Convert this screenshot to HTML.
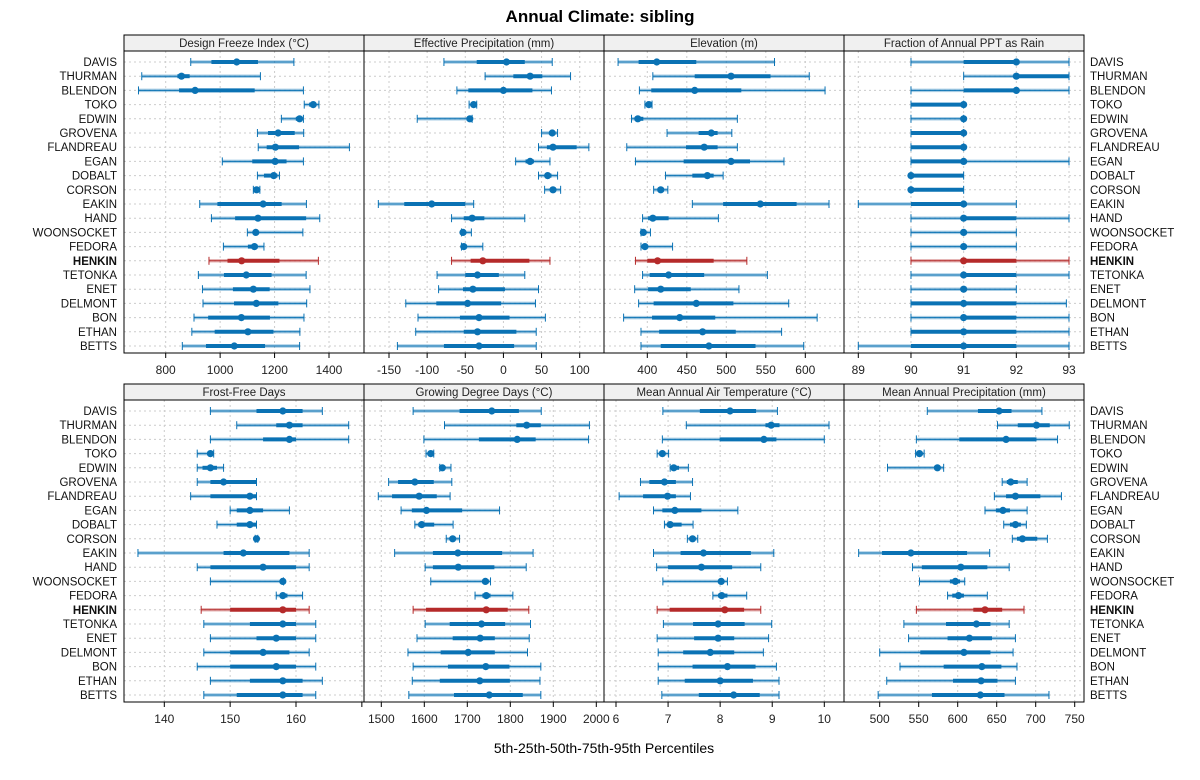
<!DOCTYPE html>
<html><head><meta charset="utf-8"><style>
body{margin:0;background:#fff;}
svg{font-family:"Liberation Sans",sans-serif;}
</style></head><body>
<svg id="chart" width="1200" height="775">
<text x="600" y="22" text-anchor="middle" font-size="17" font-weight="bold">Annual Climate: sibling</text>
<text x="604" y="753" text-anchor="middle" font-size="14">5th-25th-50th-75th-95th Percentiles</text>
</svg>
<script>
const rowNames = ["DAVIS","THURMAN","BLENDON","TOKO","EDWIN","GROVENA","FLANDREAU","EGAN","DOBALT","CORSON","EAKIN","HAND","WOONSOCKET","FEDORA","HENKIN","TETONKA","ENET","DELMONT","BON","ETHAN","BETTS"];
const highlight = "HENKIN";
const panelTitles = ["Design Freeze Index (°C)","Effective Precipitation (mm)","Elevation (m)","Fraction of Annual PPT as Rain","Frost-Free Days","Growing Degree Days (°C)","Mean Annual Air Temperature (°C)","Mean Annual Precipitation (mm)"];
const dfi = [[892,968,1061,1139,1271],[712,843,858,888,1148],[700,849,908,1127,1306],[1309,1327,1342,1351,1363],[1225,1278,1292,1302,1306],[1137,1176,1213,1274,1307],[1140,1171,1203,1290,1475],[1008,1118,1202,1244,1306],[1137,1161,1197,1210,1218],[1122,1126,1134,1141,1146],[925,990,1158,1226,1317],[968,1055,1139,1316,1366],[1100,1121,1131,1140,1304],[1012,1102,1126,1138,1161],[959,1027,1079,1218,1361],[920,1014,1096,1189,1316],[935,1047,1122,1182,1330],[937,1051,1133,1214,1318],[904,956,1078,1183,1308],[896,980,1102,1196,1293],[861,948,1052,1165,1292]];
const effp = [[-78,-35,4,28,64],[-24,13,35,51,88],[-61,-46,0,38,63],[-45,-42,-39,-37,-35],[-113,-48,-44,-42,-41],[50,62,64,66,71],[46,57,65,96,112],[16,29,35,40,61],[46,55,58,63,71],[54,61,65,69,75],[-164,-130,-94,-50,-39],[-68,-52,-41,-25,28],[-55,-54,-53,-52,-42],[-55,-53,-52,-49,-27],[-68,-43,-27,34,61],[-87,-50,-34,-6,28],[-85,-53,-40,2,46],[-128,-88,-47,-3,42],[-112,-57,-32,8,55],[-115,-52,-34,17,43],[-139,-78,-32,14,43]];
const elev = [[363,389,412,462,561],[407,460,506,556,605],[390,405,460,519,625],[397,399,402,404,406],[380,384,388,395,514],[425,465,481,489,507],[374,449,472,489,514],[385,446,506,530,573],[423,457,476,484,496],[408,413,417,421,426],[457,496,543,589,630],[394,401,407,427,490],[392,393,395,398,404],[392,394,397,400,432],[385,400,413,484,526],[394,403,427,472,552],[384,401,417,455,516],[389,408,462,509,579],[370,406,441,486,615],[392,415,470,512,570],[392,417,478,537,598]];
const rainFrac = [[90,91,92,92,93],[91,92,92,93,93],[90,91,92,92,93],[90,90,91,91,91],[90,91,91,91,91],[90,90,91,91,91],[90,90,91,91,91],[90,90,91,91,93],[90,90,90,91,91],[90,90,90,91,91],[89,90,91,91,92],[90,91,91,92,93],[90,91,91,91,92],[90,91,91,91,92],[90,91,91,92,93],[90,91,91,92,93],[90,91,91,91,92],[90,90,91,92,92.95],[90,91,91,92,93],[90,90,91,92,93],[89,90,91,92,93]];
const ffd = [[147,154,158,161,164],[151,157,159,161,168],[147,155,159,160,168],[145,146.8,147,147.2,147.5],[145,145.8,147,148,149],[145,147,149,154,154],[144,147,153,154,154],[150,151,153,155,159],[148,151,153,154,154],[153.8,153.9,154,154.1,154.2],[136,149,152,159,162],[145,147,155,160,162],[147,158,158,158,158.1],[157,157.7,158,158.7,161],[145.6,150,158,160,162],[146,153,158,160,163],[147,154,157,160,163],[146,150,155,159,162],[145,150,157,160,163],[147,153,158,161,164],[146,151,158,161,163]];
const gdd = [[1574,1682,1757,1820,1872],[1647,1814,1838,1871,1984],[1599,1727,1816,1859,1982],[1604,1609,1615,1619,1622],[1636,1638,1642,1646,1662],[1517,1539,1578,1622,1664],[1493,1525,1588,1629,1660],[1546,1571,1605,1688,1775],[1578,1586,1594,1623,1667],[1651,1660,1666,1671,1682],[1531,1620,1678,1781,1853],[1602,1620,1679,1763,1837],[1615,1736,1742,1750,1754],[1718,1735,1744,1754,1806],[1574,1604,1744,1794,1843],[1602,1659,1733,1788,1847],[1583,1666,1730,1764,1844],[1562,1638,1702,1764,1840],[1574,1655,1743,1798,1871],[1572,1636,1729,1799,1869],[1564,1669,1751,1829,1871]];
const maat = [[6.9,7.61,8.19,8.69,9.1],[7.35,8.87,8.98,9.14,10.09],[6.89,7.99,8.84,9.08,10.0],[6.79,6.83,6.89,6.94,7.01],[7.04,7.07,7.11,7.21,7.39],[6.47,6.64,6.93,7.15,7.47],[6.06,6.52,6.99,7.15,7.43],[6.72,6.89,7.13,7.64,8.34],[6.93,6.99,7.04,7.26,7.48],[7.37,7.42,7.47,7.52,7.57],[6.72,7.24,7.68,8.59,9.03],[6.78,7.0,7.64,8.23,8.78],[6.9,7.98,8.02,8.07,8.14],[7.86,7.96,8.03,8.14,8.51],[6.79,7.03,8.09,8.46,8.78],[6.91,7.48,7.96,8.47,8.99],[6.79,7.5,7.96,8.27,8.93],[6.81,7.29,7.81,8.27,8.83],[6.81,7.47,8.14,8.68,9.08],[6.81,7.32,8.0,8.63,9.13],[6.88,7.59,8.26,8.76,9.13]];
const map = [[561,626,653,669,708],[651,677,701,718,743],[547,602,662,701,728],[546,548,551,554,557],[510,570,574,576,582],[657,663,668,677,689],[647,662,674,706,733],[635,649,658,667,689],[659,667,674,681,688],[670,676,683,702,715],[473,503,540,612,641],[542,554,604,638,666],[551,590,597,603,609],[587,593,601,608,638],[547,620,635,657,685],[531,585,624,642,666],[537,587,615,644,674],[500,552,608,642,671],[526,582,631,656,676],[509,594,630,651,674],[498,567,629,660,717]];
const ticksDfi = [800,1000,1200,1400];
const ticksEffp = [-150,-100,-50,0,50,100];
const ticksElev = [400,450,500,550,600];
const ticksRain = [89,90,91,92,93];
const ticksFfd = [140,150,160,170];
const tickLabelsFfd = ["140","150","160",""];
const ticksGdd = [1500,1600,1700,1800,1900,2000];
const ticksMaat = [6,7,8,9,10];
const ticksMap = [500,550,600,650,700,750];

const NS="http://www.w3.org/2000/svg";
const svg=document.getElementById('chart');
function mk(tag,attrs,parent){const e=document.createElementNS(NS,tag);for(const k in attrs)e.setAttribute(k,attrs[k]);(parent||svg).appendChild(e);return e;}
function linScale(v0,p0,v1,p1){return v=>p0+(v-v0)*(p1-p0)/(v1-v0);}
const panels=[
 {data:dfi,ticks:ticksDfi,x0:124,row:0,sc:linScale(800,165.7,1400,329)},
 {data:effp,ticks:ticksEffp,x0:364,row:0,sc:linScale(-150,389,100,579.7)},
 {data:elev,ticks:ticksElev,x0:604,row:0,sc:linScale(400,647.3,600,805.3)},
 {data:rainFrac,ticks:ticksRain,x0:844,row:0,sc:linScale(89,858.3,93,1069)},
 {data:ffd,ticks:ticksFfd,labels:tickLabelsFfd,x0:124,row:1,sc:linScale(140,164.3,160,296)},
 {data:gdd,ticks:ticksGdd,x0:364,row:1,sc:linScale(1500,381.3,2000,596.3)},
 {data:maat,ticks:ticksMaat,x0:604,row:1,sc:linScale(6,616,10,824.3)},
 {data:map,ticks:ticksMap,x0:844,row:1,sc:linScale(500,879.7,750,1074.7)}
];
const rowTops=[35,384];
const W=240, stripH=16, plotH=302, STEP=14.2;
const blue="#0a72b4", red="#b52a2a";
panels.forEach((p,i)=>{
 const top=rowTops[p.row], pt=top+stripH, pb=pt+plotH;
 const g=mk('g',{});
 
 
 const strip=mk('rect',{x:p.x0,y:top,width:W,height:stripH,fill:'#f0f0f0',stroke:'#000','stroke-width':1},g);
 
 
 const st=mk('text',{x:p.x0+W/2,y:top+12,'text-anchor':'middle','font-size':'11.5',fill:'#222'},g);
 st.textContent=panelTitles[i];
 
 
 const yRow=k=>pt+11+k*STEP;
 p.ticks.forEach(t=>{const x=p.sc(t);if(x>p.x0+1&&x<p.x0+W-1){mk('line',{x1:x,x2:x,y1:pt,y2:pb,stroke:'#ccc','stroke-dasharray':'2,3','stroke-width':1},g);}});
 rowNames.forEach((n,k)=>{mk('line',{x1:p.x0,x2:p.x0+W,y1:yRow(k),y2:yRow(k),stroke:'#ccc','stroke-dasharray':'2,3','stroke-width':1},g);});
 p.data.forEach((d,k)=>{
  const y=yRow(k), c=rowNames[k]===highlight?red:blue;
  const x5=p.sc(d[0]),x25=p.sc(d[1]),x50=p.sc(d[2]),x75=p.sc(d[3]),x95=p.sc(d[4]);
  const band=mk('line',{x1:x5,x2:x95,y1:y,y2:y,stroke:c,'stroke-width':3.5,'stroke-opacity':0.35},g);
  
  
  mk('line',{x1:x5,x2:x95,y1:y,y2:y,stroke:c,'stroke-width':1},g);
  mk('line',{x1:x5,x2:x5,y1:y-4,y2:y+4,stroke:c,'stroke-width':1},g);
  mk('line',{x1:x95,x2:x95,y1:y-4,y2:y+4,stroke:c,'stroke-width':1},g);
  const iqr=mk('line',{x1:x25,x2:x75,y1:y,y2:y,stroke:c,'stroke-width':4},g);
  
  
  const dot=mk('circle',{cx:x50,cy:y,r:3.6,fill:c},g);
  
  
 });
 mk('rect',{x:p.x0,y:pt,width:W,height:plotH,fill:'none',stroke:'#000','stroke-width':1},g);
 p.ticks.forEach((t,j)=>{const x=p.sc(t);
  mk('line',{x1:x,x2:x,y1:pb,y2:pb+5,stroke:'#000','stroke-width':1},g);
  const lab=p.labels?p.labels[j]:String(t);
  if(lab){const tl=mk('text',{x:x,y:pb+21,'text-anchor':'middle','font-size':'12',fill:'#222'},g);tl.textContent=lab;
  
  }
 });
});
rowTops.forEach(top=>{
 rowNames.forEach((n,k)=>{
  const y=top+stripH+11+k*STEP+4;
  const bold=n===highlight?'bold':'normal';
  const l=mk('text',{x:117,y:y,'text-anchor':'end','font-size':'11.5','font-weight':bold,fill:'#111'});
  l.textContent=n;
  
  
  const r=mk('text',{x:1090,y:y,'text-anchor':'start','font-size':'11.5','font-weight':bold,fill:'#111'});
  r.textContent=n;
  
  
 });
});
</script>
</body></html>
